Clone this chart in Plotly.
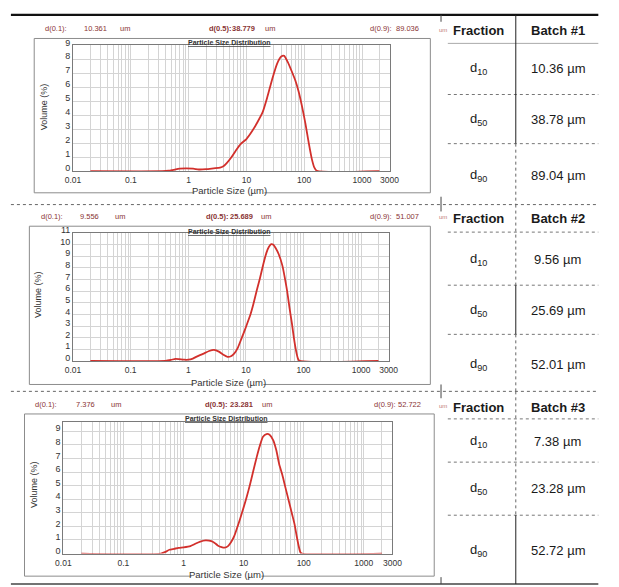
import plotly.graph_objects as go

W, H = 619, 587

# ---------------- data ----------------
size1 = [0.02, 0.35, 0.45, 0.55, 0.7, 0.9, 1.2, 1.5, 2.0, 2.7, 3.5, 4.0, 4.6, 5.5, 6.5, 8.0, 10, 12.5, 15.5,
         19, 23, 28, 34, 40, 45, 52, 60, 70, 80, 92, 105, 120, 135, 150, 165, 2000]
vol1 = [0, 0, 0.03, 0.1, 0.18, 0.2, 0.18, 0.12, 0.14, 0.2, 0.25, 0.35, 0.6, 1.0, 1.45, 1.95, 2.3, 2.85, 3.5,
        4.2, 5.3, 6.6, 7.7, 8.2, 8.25, 7.8, 7.2, 6.5, 5.7, 4.6, 3.4, 2.0, 0.9, 0.25, 0.02, 0]

size2 = [0.02, 0.4, 0.5, 0.6, 0.7, 0.85, 1.0, 1.2, 1.4, 1.8, 2.3, 2.8, 3.4, 4.0, 4.8, 5.5, 6.3, 7.2, 8.2, 9.5,
         10.5, 12, 13.5, 15.5, 17.5, 20, 22.7, 25, 27.5, 30, 33, 37, 43, 48, 52, 57, 63, 68, 74, 80, 85, 2000]
vol2 = [0, 0, 0.08, 0.18, 0.15, 0.1, 0.1, 0.2, 0.37, 0.6, 0.85, 0.95, 0.8, 0.55, 0.35, 0.4, 0.65, 1.1, 1.8, 2.6,
        3.2, 4.0, 4.9, 6.1, 7.1, 8.3, 9.3, 9.8, 10.05, 10.0, 9.7, 9.2, 8.2, 7.0, 6.0, 4.6, 3.2, 2.0, 0.9, 0.2, 0, 0]

size3 = [0.02, 0.42, 0.5, 0.58, 0.7, 0.83, 1.0, 1.3, 1.57, 1.9, 2.3, 2.9, 3.3, 3.7, 4.3, 4.8, 5.5, 6.2, 7.0,
         7.8, 8.8, 10, 11.3, 12.8, 14.5, 16.5, 18.5, 21, 24, 27, 31, 35, 39, 44, 50, 57, 64, 70, 77, 83, 88, 94, 2000]
vol3 = [0, 0, 0.12, 0.28, 0.35, 0.42, 0.46, 0.55, 0.72, 0.88, 0.97, 0.92, 0.78, 0.6, 0.47, 0.43, 0.55, 0.85, 1.3,
        1.9, 2.6, 3.4, 4.2, 5.1, 6.1, 7.1, 7.9, 8.6, 8.8, 8.75, 8.35, 7.6, 6.6, 5.8, 4.8, 3.8, 2.9, 2.2, 1.2, 0.5,
        0.1, 0, 0]

d10_raw = ["10.361", "9.556", "7.376"]
d50_raw = ["38.779", "25.689", "23.281"]
d90_raw = ["89.036", "51.007", "52.722"]
batches = ["Batch #1", "Batch #2", "Batch #3"]
d10_vals = ["10.36 µm", "9.56 µm", "7.38 µm"]
d50_vals = ["38.78 µm", "25.69 µm", "23.28 µm"]
d90_vals = ["89.04 µm", "52.01 µm", "52.72 µm"]
y_max = [9, 11, 9.7]

x_tick_vals = [0.01, 0.1, 1, 10, 100, 1000, 3000]
x_tick_text = ["0.01", "0.1", "1", "10", "100", "1000", "3000"]
minor_vals = [m * 10 ** k for k in range(-2, 4) for m in range(2, 10) if m * 10 ** k <= 2000]

series = [(size1, vol1), (size2, vol2), (size3, vol3)]

# ---------------- layout geometry (pixels) ----------------
panels = [
    dict(outer=(27, 31, 435, 188), plot=(67, 38, 393, 166), head=21, title_y=35, xl=(228, 186), yl=(37, 100),
         gap=(192, 264), hx=[49, 90, 120, 219, 243, 270, 384, 411]),
    dict(outer=(22, 222, 435, 383), plot=(67, 229, 392, 359), head=212, title_y=227, xl=(227, 381), yl=(31, 292),
         gap=(191, 263), hx=[45, 84, 115, 216, 240, 266, 384, 411]),
    dict(outer=(17, 413, 439, 578), plot=(57, 421, 396, 555), head=403, title_y=418, xl=(225, 576), yl=(27, 485),
         gap=(189, 261), hx=[39, 80, 111, 215, 240, 267, 388, 414]),
]

FONT = "Arial, Liberation Sans, sans-serif"
HEAD_COL = "#8a3434"
GRID = "#d4d4d4"
BOX = "#8c8c8c"


def X(p):
    return p / W


def Y(p):
    return 1 - p / H


fig = go.Figure()
annotations = []
shapes = []


def hline(y, xa, xb, color, width, dash="solid"):
    shapes.append(dict(type="line", xref="paper", yref="paper", x0=X(xa), x1=X(xb), y0=Y(y), y1=Y(y),
                       line=dict(color=color, width=width, dash=dash)))


def vline(x, ya, yb, color, width, dash="solid"):
    shapes.append(dict(type="line", xref="paper", yref="paper", x0=X(x), x1=X(x), y0=Y(ya), y1=Y(yb),
                       line=dict(color=color, width=width, dash=dash)))


for i, ((sx, sv), P) in enumerate(zip(series, panels)):
    n = "" if i == 0 else str(i + 1)
    fig.add_trace(go.Scatter(x=sx, y=sv, mode="lines", xaxis="x" + n, yaxis="y" + n,
                             line=dict(color="#d2302c", width=1.8, shape="spline", smoothing=0.6),
                             showlegend=False, hoverinfo="skip"))
    x0, y0, x1, y1 = P["plot"]
    fig.update_layout(**{
        "xaxis" + n: dict(type="log", domain=[X(x0), X(x1)], anchor="y" + n, range=[-2, 3.4771],
                          tickmode="array", tickvals=x_tick_vals, ticktext=x_tick_text,
                          showgrid=True, gridcolor=GRID, gridwidth=1,
                          minor=dict(tickmode="array", tickvals=minor_vals, showgrid=True, gridcolor=GRID,
                                     gridwidth=1, ticks=""),
                          showline=True, mirror=True, linecolor="#7a7a7a", linewidth=1,
                          ticks="", ticklen=0, ticklabelstandoff=1,
                          tickfont=dict(family=FONT, size=8.5, color="#333"),
                          zeroline=False, fixedrange=True),
        "yaxis" + n: dict(domain=[Y(y1), Y(y0)], anchor="x" + n, range=[0, y_max[i]],
                          tickmode="linear", tick0=0, dtick=1, ticklabelshift=-3,
                          showgrid=True, gridcolor=GRID, gridwidth=1,
                          showline=True, mirror=True, linecolor="#7a7a7a", linewidth=1,
                          ticks="", tickfont=dict(family=FONT, size=9, color="#333"),
                          zeroline=False, fixedrange=True),
    })
    # outer box (bottom edge broken around the axis title)
    ox0, oy0, ox1, oy1 = P["outer"]
    hline(oy0, ox0, ox1, BOX, 1)
    vline(ox0, oy0, oy1, BOX, 1)
    vline(ox1, oy0, oy1, BOX, 1)
    hline(oy1, ox0, P["gap"][0], BOX, 1)
    hline(oy1, P["gap"][1], ox1, BOX, 1)
    # header
    hx = P["hx"]
    htexts = [("d(0.1):", False), (d10_raw[i], False), ("um", False),
              ("d(0.5):", True), (d50_raw[i], True), ("um", False),
              ("d(0.9):", False), (d90_raw[i], False)]
    for xx, (t, b) in zip(hx, htexts):
        annotations.append(dict(x=X(xx), y=Y(P["head"]), xref="paper", yref="paper", showarrow=False,
                                text="<b>%s</b>" % t if b else t, xanchor="center", yanchor="middle",
                                font=dict(family=FONT, size=7.5, color=HEAD_COL)))
    # plot title
    annotations.append(dict(x=X((x0 + x1) / 2 - 2), y=Y(P["title_y"]), xref="paper", yref="paper",
                            showarrow=False, text="<b><u>Particle Size Distribution</u></b>",
                            xanchor="center", yanchor="middle", font=dict(family=FONT, size=7, color="#333")))
    # axis titles
    annotations.append(dict(x=X(P["xl"][0]), y=Y(P["xl"][1]), xref="paper", yref="paper", showarrow=False,
                            text="Particle Size (µm)", xanchor="center", yanchor="middle",
                            font=dict(family=FONT, size=9.5, color="#333")))
    annotations.append(dict(x=X(P["yl"][0]), y=Y(P["yl"][1]), xref="paper", yref="paper", showarrow=False,
                            text="Volume (%)", textangle=-90, xanchor="center", yanchor="middle",
                            font=dict(family=FONT, size=9, color="#333")))

# ---------------- tables ----------------
TF = dict(family="Liberation Sans, Arial, sans-serif", size=13, color="#1a1a1a")
col1_x, col2_x = 485, 566
rows = [
    dict(head=23, r=[62, 113, 170]),
    dict(head=214, r=[256, 308, 363]),
    dict(head=406, r=[441, 489, 552]),
]
labels = ["d<sub>10</sub>", "d<sub>50</sub>", "d<sub>90</sub>"]
for i, R in enumerate(rows):
    annotations.append(dict(x=X(col1_x), y=Y(R["head"]), xref="paper", yref="paper", showarrow=False,
                            text="<b>Fraction</b>", font=TF, xanchor="center", yanchor="middle"))
    annotations.append(dict(x=X(col2_x), y=Y(R["head"]), xref="paper", yref="paper", showarrow=False,
                            text="<b>%s</b>" % batches[i], font=TF, xanchor="center", yanchor="middle"))
    annotations.append(dict(x=X(448), y=Y(R["head"] - 1), xref="paper", yref="paper", showarrow=False,
                            text="um", font=dict(family=FONT, size=6, color="#c07878"),
                            xanchor="center", yanchor="middle"))
    vals = [d10_vals[i], d50_vals[i], d90_vals[i]]
    for lab, v, yy in zip(labels, vals, R["r"]):
        annotations.append(dict(x=X(col1_x), y=Y(yy), xref="paper", yref="paper", showarrow=False,
                                text=lab, font=TF, xanchor="center", yanchor="middle"))
        annotations.append(dict(x=X(col2_x), y=Y(yy), xref="paper", yref="paper", showarrow=False,
                                text=v, font=TF, xanchor="center", yanchor="middle"))

# outer frame lines
hline(7, 3, 608, "#111", 2.2)
hline(200, 3, 608, "#666", 1, "dot")
hline(390, 3, 608, "#666", 1, "dot")
hline(586, 3, 608, "#444", 1.6)
# table row lines
hline(36, 453, 608, "#aaa", 1)
for yy in [88, 138, 228, 282, 332, 418, 462, 516]:
    hline(yy, 453, 608, "#777", 1, "dot")
# column divider
vline(523, 7, 138, "#222", 1)
vline(523, 138, 200, "#666", 1, "dot")
vline(523, 200, 282, "#666", 1, "dot")
vline(523, 282, 332, "#222", 1)
vline(523, 332, 390, "#666", 1, "dot")
vline(523, 390, 516, "#666", 1, "dot")
vline(523, 516, 586, "#222", 1)
# left table border fragments
for ya, yb in [(7, 14), (192, 207), (383, 397), (579, 586)]:
    vline(446, ya, yb, "#444", 1)

fig.update_layout(width=W, height=H, margin=dict(l=0, r=0, t=0, b=0), paper_bgcolor="white",
                  plot_bgcolor="white", annotations=annotations, shapes=shapes, showlegend=False)

fig.write_html("out.html")
